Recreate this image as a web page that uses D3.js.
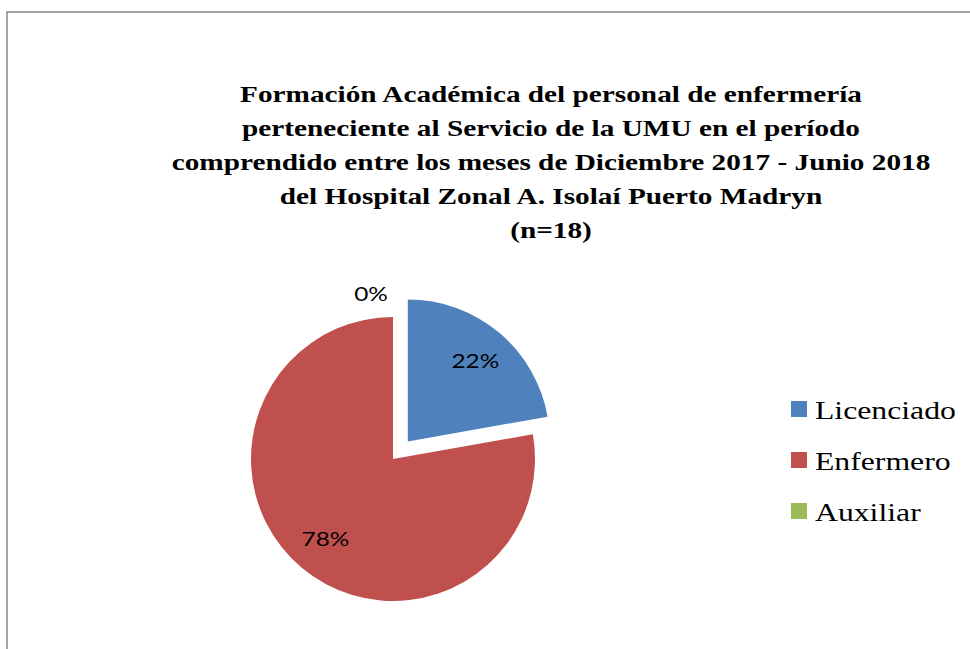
<!DOCTYPE html>
<html>
<head>
<meta charset="utf-8">
<script src="https://cdn.jsdelivr.net/npm/d3@7"></script>
<style>
  body { margin: 0; background: #fff; }
  svg { display: block; }
</style>
</head>
<body>
<div id="chart"></div>
<script>
// data
const categories = ["Licenciado", "Enfermero", "Auxiliar"];
const values = [4, 14, 0];
const colors = ["#4F81BD", "#C0504D", "#9BBB59"];
const titleLines = [
  "Formación Académica del personal de enfermería",
  "perteneciente al Servicio de la UMU en el período",
  "comprendido entre los meses de Diciembre 2017 - Junio 2018",
  "del Hospital Zonal A. Isolaí Puerto Madryn",
  "(n=18)"
];

const width = 970, height = 649;
const cx = 393, cy = 459, radius = 142;
// the text in the original is drawn a bit wide
const stretch = 1.22;

const svg = d3.select("#chart").append("svg")
  .attr("width", width)
  .attr("height", height);

// chart frame (runs off the right and bottom edge)
svg.append("rect")
  .attr("x", 7).attr("y", 12)
  .attr("width", 1000).attr("height", 700)
  .attr("fill", "none")
  .attr("stroke", "#868686")
  .attr("stroke-width", 1.5);

// title
svg.append("text")
  .attr("transform", `translate(551,0) scale(${stretch},1)`)
  .attr("text-anchor", "middle")
  .attr("font-family", "'Liberation Serif', 'Times New Roman', serif")
  .attr("font-weight", "bold")
  .attr("font-size", 24)
  .attr("fill", "#000")
  .selectAll("tspan")
  .data(titleLines)
  .join("tspan")
  .attr("x", 0)
  .attr("y", (d, i) => 102 + i * 34)
  .text(d => d);

const total = d3.sum(values);
const pie = d3.pie().sort(null).value(d => d)(values);
const arc = d3.arc().innerRadius(0).outerRadius(radius);
const fmt = d => Math.round(d / total * 100) + "%";

// blue slice is pulled out from the centre
const explode = [23, 0, 0];
function shift(d, i) {
  const a = (d.startAngle + d.endAngle) / 2;
  return [Math.sin(a) * explode[i], -Math.cos(a) * explode[i]];
}

const g = svg.append("g").attr("transform", `translate(${cx},${cy})`);

g.selectAll("path")
  .data(pie)
  .join("path")
  .attr("fill", (d, i) => colors[i])
  .attr("transform", (d, i) => `translate(${shift(d, i)})`)
  .attr("d", arc);

// percentage labels
const labelArc = d3.arc().innerRadius(radius * 0.74).outerRadius(radius * 0.74);
const outerArc = d3.arc().innerRadius(radius * 1.16).outerRadius(radius * 1.16);
g.selectAll("text")
  .data(pie)
  .join("text")
  .attr("font-family", "Lato, Carlito, Calibri, sans-serif")
  .attr("font-size", 20)
  .attr("text-anchor", "middle")
  .attr("dy", "0.35em")
  .attr("fill", "#000")
  .attr("transform", (d, i) => {
    let p = d.value === 0 ? outerArc.centroid(d) : labelArc.centroid(d);
    const s = shift(d, i);
    if (d.value === 0) p = [p[0] - 22, p[1]];
    return `translate(${p[0] + s[0]},${p[1] + s[1]}) scale(${stretch},1)`;
  })
  .text(d => fmt(d.value));

// legend
const legend = svg.append("g")
  .attr("transform", "translate(791,401)")
  .selectAll("g")
  .data(categories)
  .join("g")
  .attr("transform", (d, i) => `translate(0,${i * 51})`);

legend.append("rect")
  .attr("width", 16).attr("height", 16)
  .attr("fill", (d, i) => colors[i]);

legend.append("text")
  .attr("transform", `translate(24,18) scale(${stretch},1)`)
  .attr("font-family", "'Liberation Serif', 'Times New Roman', serif")
  .attr("font-size", 26)
  .attr("fill", "#000")
  .text(d => d);
</script>
</body>
</html>
